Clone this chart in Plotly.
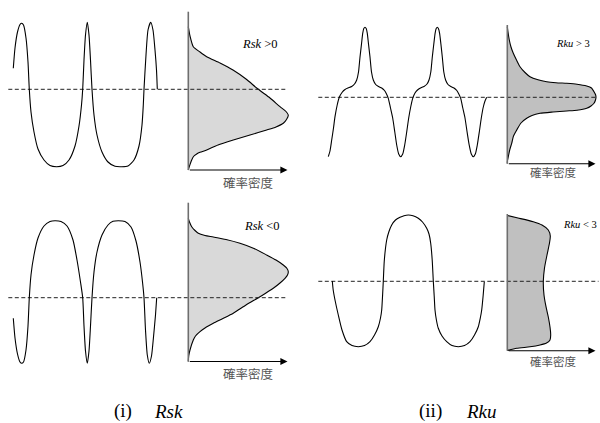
import plotly.graph_objects as go

# ---------- data (picture coordinates) ----------
# (i) Rsk > 0 : waveform
wave_skp_x = [13.3, 15, 17.5, 20, 21.7, 23.5, 26, 28, 29.3, 31, 34, 38, 44, 50, 56.7, 63, 69, 75, 79, 81.5, 82.7,
              84, 85.5, 87.3, 89, 90.5, 92, 94, 97, 102, 108, 115, 121.7, 128, 134, 139, 142, 143.3, 144,
              146, 148, 150.7, 153, 155, 156.5, 157.3]
wave_skp_y = [68.3, 48, 32, 24.5, 23.3, 25, 38, 62, 89.3, 112, 132, 149, 160, 165.5, 166.7, 165.5, 160, 146, 126, 105, 89.3,
              60, 35, 22.3, 35, 60, 89.3, 115, 135, 152, 162, 166.3, 166.7, 166, 160, 146, 125, 105, 89.3,
              55, 30, 22.3, 30, 50, 70, 89.3]
# (i) Rsk > 0 : density
dens_skp_x = [188.3, 190, 193.3, 200, 206.7, 220, 233, 246, 258.3, 270, 280, 286, 288.3, 286.5, 283.3, 276, 266.7, 250, 233.3,
              218, 206.7, 200, 196.7, 193.5, 191.7, 189.3, 188.3]
dens_skp_y = [26.7, 36, 46.7, 52, 56.7, 63, 70, 79, 89.3, 98, 106.7, 111.5, 115, 119.5, 123.3, 127, 130, 135, 140,
              145, 150, 152.3, 154, 156.5, 160, 166.7, 170]

# (i) Rsk < 0 : waveform
wave_skn_x = [13.3, 15, 17.5, 20, 21.7, 23.5, 26, 28, 29.3, 31, 34, 38, 44, 50, 55, 61, 67, 73, 77, 80.5, 82.7,
              84, 85.5, 87.3, 89, 90.5, 92, 94, 97, 102, 108, 113, 118.3, 125, 131, 136, 140, 142.5, 144,
              145.5, 147.3, 149.3, 151.5, 153.5, 155.5, 156.7]
wave_skn_y = [318.3, 338, 354, 362, 363.3, 362, 350, 326, 297.7, 275, 255, 238, 226, 221.5, 220.7, 221.5, 226, 240, 260, 282, 297.7,
              326, 351, 363.3, 351, 326, 297.7, 272, 252, 235, 225, 221.3, 220.7, 221.5, 227, 241, 262, 282, 297.7,
              330, 355, 363.3, 356, 337, 315, 297.7]
# (i) Rsk < 0 : density
dens_skn_x = [188.3, 189.5, 191.7, 195, 198.3, 205, 213.3, 226, 240, 254, 266.7, 276, 283.3, 287, 288.3, 287.5, 285, 280, 273.3,
              266, 258.3, 246, 233.3, 222, 213.3, 205, 200, 195.5, 193.3, 190, 188.7, 188.3]
dens_skn_y = [218.3, 222, 226.7, 230.5, 233.3, 235.5, 237, 239.5, 243.3, 248.5, 255, 260, 265, 268.5, 271.7, 275, 278.3, 283, 288.3,
              293, 297.7, 305, 313.3, 319, 323.3, 328, 331.7, 336, 340, 350, 356, 361.5]

# (ii) Rku > 3 : waveform
wave_kup_x = [328.3, 330, 331.7, 333.5, 335, 337.2, 339.3, 342, 345, 348, 351.7, 354.5, 356.7, 358.5, 360, 361.5, 362.7, 363.8, 365,
              366.2, 367.3, 368.5, 370, 371.5, 373.3, 375.7, 378.5, 381.7, 384.5, 386.5, 388.3, 390.5, 392.7, 394.8, 396.7, 398.7, 400.7,
              402.7, 404.7, 406.7, 408.7, 410.7, 412.7, 415, 417.5, 420.5, 424, 427, 429, 430.8, 432.3, 433.8, 435.1, 436.2, 437.3,
              438.4, 439.6, 440.9, 442.3, 443.8, 445.6, 448, 450.8, 454, 456.8, 458.8, 460.7, 462.8, 465, 467.1, 469.2, 471.3, 473.3,
              475.3, 477.3, 479.3, 481.3, 483.3, 485, 486.7]
wave_kup_y = [156.7, 151, 140, 128, 116.7, 105, 97.3, 92.5, 89.5, 88, 86.5, 84, 80, 72, 57, 44, 33.3, 28.6, 27.3,
              28.6, 33.3, 44, 57, 72, 80, 84.5, 86.5, 88, 90.5, 94, 98.3, 108, 118, 132, 145, 154, 156.7,
              154, 145, 132, 118, 107, 98.3, 93, 90, 88, 86.5, 84, 80, 72, 57, 44, 33.3, 28.6, 27.3,
              28.6, 33.3, 44, 57, 72, 80, 84.5, 86.5, 88, 90.5, 94, 98.3, 108, 118, 132, 145, 154, 156.7,
              154, 145, 132, 118, 107, 101, 97.3]
# (ii) Rku > 3 : density
dens_kup_x = [507.3, 508, 509.3, 511, 513.3, 516.5, 520, 525, 530, 538, 546.7, 556, 566.7, 577, 586.7, 591.5, 594, 595.5, 596,
              595.5, 594, 591, 586.7, 577, 566.7, 553, 540, 532, 526.7, 521, 516.7, 513.5, 511.7, 509.7, 508.3, 507.5, 507.3]
dens_kup_y = [26.7, 32, 40, 47, 53.3, 60, 66.7, 72.5, 76.7, 79.8, 81.7, 82.7, 83.3, 84.2, 86, 88, 91.7, 94.5, 97.3,
              100, 103.3, 106, 108.3, 110.2, 111, 112, 113.3, 115.5, 118.3, 123, 130, 136, 143.3, 150, 156.7, 160.5, 163.3]

# (ii) Rku < 3 : waveform
wave_kun_x = [332.3, 333.2, 335, 338.3, 342, 346.7, 352, 358.3, 364.5, 370, 374.5, 378.3, 380.5, 381.7, 382.6, 383.3,
              384.2, 385.3, 386.7, 388.8, 391.7, 395.5, 400, 404, 408.3, 413, 418.3, 422.5, 426.7, 429, 430.7, 432.2, 433.3,
              434.2, 435, 436.4, 438.3, 442, 446.7, 452, 458.3, 464.5, 470, 474.5, 478.3, 480.3, 481.7, 483.2, 484.3]
wave_kun_y = [281, 290, 300, 315, 330, 341.7, 345.6, 346.7, 345.6, 341.7, 335, 326.7, 318, 310, 295, 281,
              262, 250, 240, 232, 225, 220, 217.3, 215.7, 215, 215.7, 218.3, 222, 228.3, 234, 243.3, 260, 281,
              296, 310, 320, 328.3, 336, 341.7, 345.6, 346.7, 345.6, 341.7, 335, 326.7, 318, 310, 295, 281.7]
# (ii) Rku < 3 : density
dens_kun_x = [507.3, 518, 533.3, 542, 548.3, 550.3, 549.5, 547, 544.5, 543.3, 544, 546, 548.3, 550, 550.7, 550, 546.5,
              540, 530, 516.7, 507.3]
dens_kun_y = [215.5, 218, 221.7, 225, 230, 236, 243, 255, 268, 281.7, 295, 306.7, 317, 327, 335, 340, 343,
              345, 346.8, 348.3, 350.5]

# ---------- panel frames ----------
panels = [
    dict(wx=wave_skp_x, wy=wave_skp_y, dx=dens_skp_x, dy=dens_skp_y, fill="#d9d9d9",
         axis_x=188.3, axis_top=11.7, axis_bot=170, arrow_end=287.5, dash_y=89.3, dash_x0=8.3, dash_x1=287.3,
         lab="<i>Rsk</i> >0", lab_x=240, lab_y=43.5, lab_size=12.5,
         cjk_x=247.5, cjk_y=182, cjk_size=12.5),
    dict(wx=wave_skn_x, wy=wave_skn_y, dx=dens_skn_x, dy=dens_skn_y, fill="#d9d9d9",
         axis_x=188.3, axis_top=202.7, axis_bot=361.5, arrow_end=287.5, dash_y=297.7, dash_x0=8.3, dash_x1=287.3,
         lab="<i>Rsk</i> <0", lab_x=241.5, lab_y=226, lab_size=12.5,
         cjk_x=247.5, cjk_y=373.5, cjk_size=12.5),
    dict(wx=wave_kup_x, wy=wave_kup_y, dx=dens_kup_x, dy=dens_kup_y, fill="#c0c0c0",
         axis_x=507.3, axis_top=25, axis_bot=163.8, arrow_end=595.5, dash_y=97.3, dash_x0=318.3, dash_x1=597,
         lab="<i>Rku</i> > 3", lab_x=553.5, lab_y=43.5, lab_size=10.5,
         cjk_x=553.3, cjk_y=172, cjk_size=11.5),
    dict(wx=wave_kun_x, wy=wave_kun_y, dx=dens_kun_x, dy=dens_kun_y, fill="#c0c0c0",
         axis_x=507.3, axis_top=214, axis_bot=350.7, arrow_end=595.5, dash_y=281.3, dash_x0=318.3, dash_x1=598.5,
         lab="<i>Rku</i> < 3", lab_x=561, lab_y=224.5, lab_size=10.5,
         cjk_x=553.3, cjk_y=361, cjk_size=11.5),
]

captions = ["(i)", "<i>Rsk</i>", "(ii)", "<i>Rku</i>"]
caption_x = [112.5, 153, 418, 465]
caption_y = 422.5

fig = go.Figure()
annotations = []
for p in panels:
    # density fill
    fig.add_trace(go.Scatter(x=p["dx"], y=p["dy"], mode="lines", fill="toself", fillcolor=p["fill"],
                             line=dict(color="black", width=1.1, shape="spline", smoothing=0.6),
                             hoverinfo="skip", showlegend=False))
    # dashed mean line
    fig.add_trace(go.Scatter(x=[p["dash_x0"], p["dash_x1"]], y=[p["dash_y"], p["dash_y"]], mode="lines",
                             line=dict(color="#222222", width=1, dash="4px,2.5px"),
                             hoverinfo="skip", showlegend=False))
    # waveform
    fig.add_trace(go.Scatter(x=p["wx"], y=p["wy"], mode="lines",
                             line=dict(color="black", width=1.1, shape="spline", smoothing=0.6),
                             hoverinfo="skip", showlegend=False))
    # vertical axis
    fig.add_trace(go.Scatter(x=[p["axis_x"], p["axis_x"]], y=[p["axis_top"], p["axis_bot"]], mode="lines",
                             line=dict(color="#6e6e6e", width=1.6), hoverinfo="skip", showlegend=False))
    # horizontal arrow
    annotations.append(dict(x=p["arrow_end"], y=p["axis_bot"], ax=p["axis_x"], ay=p["axis_bot"],
                            xref="x", yref="y", axref="x", ayref="y", text="", showarrow=True,
                            arrowhead=2, arrowsize=1.3, arrowwidth=1.1, arrowcolor="black"))
    # labels
    annotations.append(dict(x=p["lab_x"], y=p["lab_y"], xref="x", yref="y", text=p["lab"], showarrow=False,
                            xanchor="left", yanchor="middle",
                            font=dict(family="Liberation Serif", size=p["lab_size"], color="black")))
    annotations.append(dict(x=p["cjk_x"], y=p["cjk_y"], xref="x", yref="y", text="確率密度", showarrow=False,
                            xanchor="center", yanchor="middle",
                            font=dict(family="Noto Sans CJK JP", size=p["cjk_size"], color="#555555")))

for t, cx in zip(captions, caption_x):
    annotations.append(dict(x=cx, y=caption_y, xref="x", yref="y", text=t, showarrow=False,
                            xanchor="left", yanchor="bottom", borderpad=0,
                            font=dict(family="Liberation Serif", size=19, color="black")))

fig.update_layout(
    width=600, height=423, margin=dict(l=0, r=0, t=0, b=0),
    paper_bgcolor="white", plot_bgcolor="white",
    xaxis=dict(range=[0, 600], visible=False, fixedrange=True),
    yaxis=dict(range=[423, 0], visible=False, fixedrange=True),
    annotations=annotations, showlegend=False,
)
fig.write_html("out.html")
